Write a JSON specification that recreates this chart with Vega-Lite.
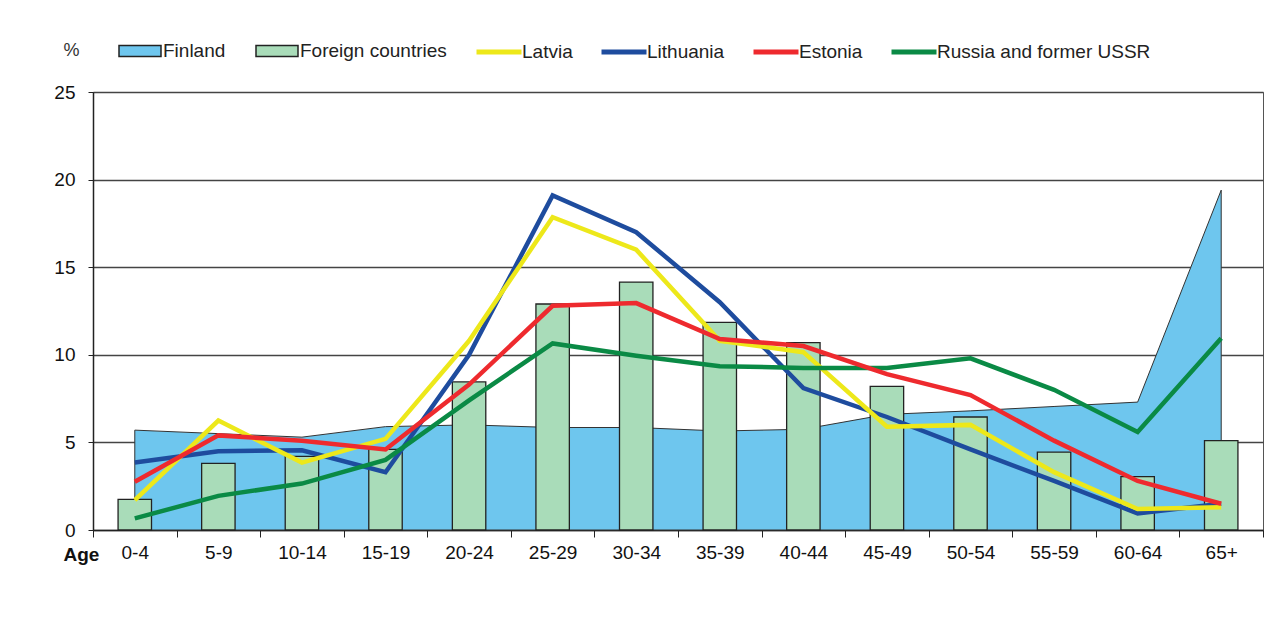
{
  "$schema": "https://vega.github.io/schema/vega-lite/v6.json",
  "width": 1170,
  "height": 438,
  "autosize": {"type": "none"},
  "padding": {"left": 93, "top": 92, "right": 22, "bottom": 109},
  "background": "white",
  "config": {
    "font": "Liberation Sans",
    "view": {"stroke": "#555", "strokeWidth": 1}
  },
  "datasets": {
    "finland": [
      {"age": "0-4", "series": "Finland", "value": 5.7},
      {"age": "5-9", "series": "Finland", "value": 5.5},
      {"age": "10-14", "series": "Finland", "value": 5.3},
      {"age": "15-19", "series": "Finland", "value": 5.9},
      {"age": "20-24", "series": "Finland", "value": 6.0},
      {"age": "25-29", "series": "Finland", "value": 5.85},
      {"age": "30-34", "series": "Finland", "value": 5.85},
      {"age": "35-39", "series": "Finland", "value": 5.65},
      {"age": "40-44", "series": "Finland", "value": 5.75},
      {"age": "45-49", "series": "Finland", "value": 6.6},
      {"age": "50-54", "series": "Finland", "value": 6.8},
      {"age": "55-59", "series": "Finland", "value": 7.05},
      {"age": "60-64", "series": "Finland", "value": 7.3},
      {"age": "65+", "series": "Finland", "value": 19.4}
    ],
    "foreign": [
      {"age": "0-4", "series": "Foreign countries", "value": 1.75},
      {"age": "5-9", "series": "Foreign countries", "value": 3.8},
      {"age": "10-14", "series": "Foreign countries", "value": 4.2},
      {"age": "15-19", "series": "Foreign countries", "value": 4.6},
      {"age": "20-24", "series": "Foreign countries", "value": 8.45},
      {"age": "25-29", "series": "Foreign countries", "value": 12.9},
      {"age": "30-34", "series": "Foreign countries", "value": 14.15},
      {"age": "35-39", "series": "Foreign countries", "value": 11.85},
      {"age": "40-44", "series": "Foreign countries", "value": 10.7},
      {"age": "45-49", "series": "Foreign countries", "value": 8.2},
      {"age": "50-54", "series": "Foreign countries", "value": 6.45},
      {"age": "55-59", "series": "Foreign countries", "value": 4.45},
      {"age": "60-64", "series": "Foreign countries", "value": 3.05},
      {"age": "65+", "series": "Foreign countries", "value": 5.1}
    ],
    "lines": [
      {"age": "0-4", "series": "Lithuania", "value": 3.85},
      {"age": "5-9", "series": "Lithuania", "value": 4.5},
      {"age": "10-14", "series": "Lithuania", "value": 4.55},
      {"age": "15-19", "series": "Lithuania", "value": 3.3},
      {"age": "20-24", "series": "Lithuania", "value": 10.0},
      {"age": "25-29", "series": "Lithuania", "value": 19.1},
      {"age": "30-34", "series": "Lithuania", "value": 17.0},
      {"age": "35-39", "series": "Lithuania", "value": 13.0},
      {"age": "40-44", "series": "Lithuania", "value": 8.1},
      {"age": "45-49", "series": "Lithuania", "value": 6.45},
      {"age": "50-54", "series": "Lithuania", "value": 4.6},
      {"age": "55-59", "series": "Lithuania", "value": 2.8},
      {"age": "60-64", "series": "Lithuania", "value": 0.95},
      {"age": "65+", "series": "Lithuania", "value": 1.5},
      {"age": "0-4", "series": "Latvia", "value": 1.7},
      {"age": "5-9", "series": "Latvia", "value": 6.25},
      {"age": "10-14", "series": "Latvia", "value": 3.85},
      {"age": "15-19", "series": "Latvia", "value": 5.2},
      {"age": "20-24", "series": "Latvia", "value": 10.8},
      {"age": "25-29", "series": "Latvia", "value": 17.85},
      {"age": "30-34", "series": "Latvia", "value": 16.0},
      {"age": "35-39", "series": "Latvia", "value": 10.8},
      {"age": "40-44", "series": "Latvia", "value": 10.15},
      {"age": "45-49", "series": "Latvia", "value": 5.9},
      {"age": "50-54", "series": "Latvia", "value": 6.0},
      {"age": "55-59", "series": "Latvia", "value": 3.3},
      {"age": "60-64", "series": "Latvia", "value": 1.2},
      {"age": "65+", "series": "Latvia", "value": 1.3},
      {"age": "0-4", "series": "Russia and former USSR", "value": 0.66},
      {"age": "5-9", "series": "Russia and former USSR", "value": 1.95},
      {"age": "10-14", "series": "Russia and former USSR", "value": 2.65},
      {"age": "15-19", "series": "Russia and former USSR", "value": 4.0},
      {"age": "20-24", "series": "Russia and former USSR", "value": 7.4},
      {"age": "25-29", "series": "Russia and former USSR", "value": 10.65},
      {"age": "30-34", "series": "Russia and former USSR", "value": 9.95},
      {"age": "35-39", "series": "Russia and former USSR", "value": 9.35},
      {"age": "40-44", "series": "Russia and former USSR", "value": 9.25},
      {"age": "45-49", "series": "Russia and former USSR", "value": 9.25},
      {"age": "50-54", "series": "Russia and former USSR", "value": 9.8},
      {"age": "55-59", "series": "Russia and former USSR", "value": 8.0},
      {"age": "60-64", "series": "Russia and former USSR", "value": 5.6},
      {"age": "65+", "series": "Russia and former USSR", "value": 10.95},
      {"age": "0-4", "series": "Estonia", "value": 2.75},
      {"age": "5-9", "series": "Estonia", "value": 5.4},
      {"age": "10-14", "series": "Estonia", "value": 5.1},
      {"age": "15-19", "series": "Estonia", "value": 4.6},
      {"age": "20-24", "series": "Estonia", "value": 8.3},
      {"age": "25-29", "series": "Estonia", "value": 12.8},
      {"age": "30-34", "series": "Estonia", "value": 12.95},
      {"age": "35-39", "series": "Estonia", "value": 10.9},
      {"age": "40-44", "series": "Estonia", "value": 10.5},
      {"age": "45-49", "series": "Estonia", "value": 8.9},
      {"age": "50-54", "series": "Estonia", "value": 7.7},
      {"age": "55-59", "series": "Estonia", "value": 5.1},
      {"age": "60-64", "series": "Estonia", "value": 2.8},
      {"age": "65+", "series": "Estonia", "value": 1.5}
    ]
  },
  "encoding": {
    "x": {
      "field": "age",
      "type": "ordinal",
      "sort": ["0-4", "5-9", "10-14", "15-19", "20-24", "25-29", "30-34", "35-39", "40-44", "45-49", "50-54", "55-59", "60-64", "65+"],
      "scale": {"type": "band", "paddingInner": 0, "paddingOuter": 0},
      "axis": {
        "title": "Age",
        "titleFontSize": 19,
        "titleFontWeight": "bold",
        "titleColor": "#111",
        "titleX": -12,
        "titleY": 24,
        "titleAlign": "center",
        "titleBaseline": "middle",
        "labelAngle": 0,
        "labelFontSize": 19,
        "labelColor": "#111",
        "labelPadding": 6,
        "tickBand": "extent",
        "tickSize": 7,
        "tickColor": "#222",
        "domainColor": "#222",
        "domainWidth": 1.5,
        "grid": false
      }
    },
    "y": {
      "field": "value",
      "type": "quantitative",
      "scale": {"domain": [0, 25], "nice": false, "zero": true},
      "axis": {
        "title": "%",
        "titleAngle": 0,
        "titleX": -22,
        "titleY": -42,
        "titleAlign": "center",
        "titleBaseline": "middle",
        "titleFontSize": 18,
        "titleFontWeight": "normal",
        "titleColor": "#333",
        "values": [0, 5, 10, 15, 20, 25],
        "labelFontSize": 19,
        "labelColor": "#111",
        "labelPadding": 13,
        "tickSize": 5,
        "tickColor": "#222",
        "domainColor": "#222",
        "domainWidth": 1.5,
        "grid": true,
        "gridColor": "#444",
        "gridWidth": 1.3
      }
    }
  },
  "layer": [
    {
      "data": {"name": "finland"},
      "mark": {"type": "area", "stroke": "#333", "strokeWidth": 1, "fillOpacity": 1},
      "encoding": {
        "fill": {
          "field": "series",
          "type": "nominal",
          "scale": {"domain": ["Finland", "Foreign countries"], "range": ["#6EC6EE", "#A9DCB9"]},
          "legend": {
            "orient": "none",
            "legendX": 25,
            "legendY": -63,
            "direction": "horizontal",
            "title": null,
            "symbolType": "M-1,-0.26H1V0.26H-1Z",
            "symbolSize": 1764,
            "symbolStrokeColor": "#222",
            "symbolStrokeWidth": 1.5,
            "labelFontSize": 19,
            "labelColor": "#222",
            "labelOffset": 1,
            "labelLimit": 0,
            "columnPadding": 27,
            "labelBaseline": "middle"
          }
        }
      }
    },
    {
      "data": {"name": "foreign"},
      "mark": {"type": "bar", "width": {"band": 0.4}, "stroke": "#222", "strokeWidth": 1.3},
      "encoding": {
        "fill": {"field": "series", "type": "nominal"}
      }
    },
    {
      "data": {"name": "lines"},
      "mark": {"type": "line", "strokeWidth": 4.5, "strokeJoin": "miter"},
      "encoding": {
        "stroke": {
          "field": "series",
          "type": "nominal",
          "scale": {
            "domain": ["Latvia", "Lithuania", "Estonia", "Russia and former USSR"],
            "range": ["#EDE81A", "#1E4C9E", "#EE2A2E", "#0A8A45"]
          },
          "legend": {
            "orient": "none",
            "legendX": 381,
            "legendY": -65,
            "direction": "horizontal",
            "title": null,
            "symbolType": "M-1,0H1",
            "symbolSize": 2025,
            "symbolStrokeWidth": 5,
            "labelFontSize": 19,
            "labelColor": "#222",
            "labelOffset": -2,
            "labelLimit": 0,
            "columnPadding": 18,
            "labelBaseline": "middle"
          }
        },
        "order": {"value": 0}
      }
    }
  ]
}
